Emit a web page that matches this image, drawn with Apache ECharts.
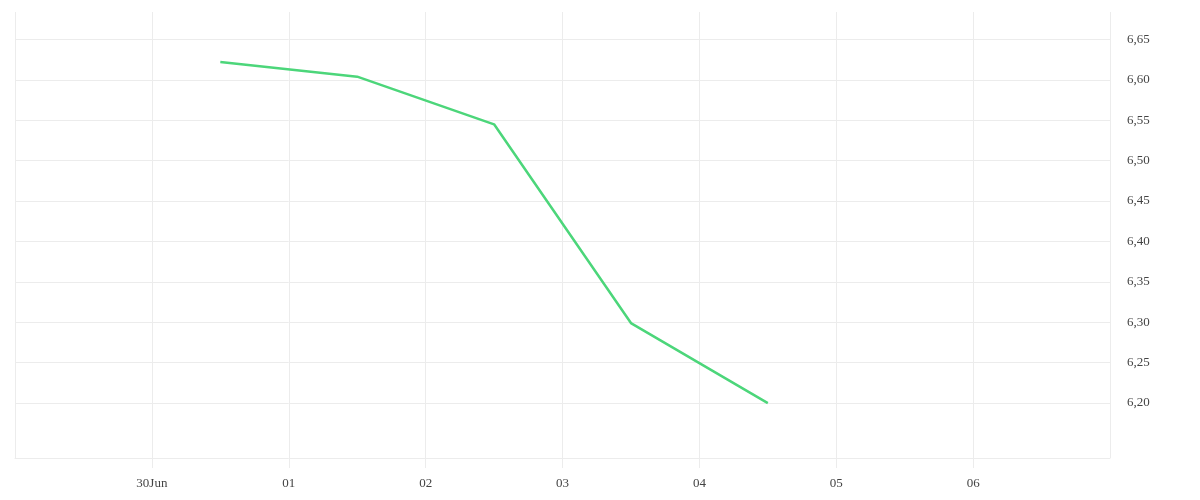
<!DOCTYPE html>
<html>
<head>
<meta charset="utf-8">
<script src="https://cdn.jsdelivr.net/npm/echarts@6/dist/echarts.min.js"></script>
<style>html,body{margin:0;padding:0;background:#fff}#c{width:1200px;height:500px}</style>
</head>
<body>
<div id="c"></div>
<script>
// Data
const dates = ['2025-06-30T12:00:00Z','2025-07-01T12:00:00Z','2025-07-02T12:00:00Z','2025-07-03T12:00:00Z','2025-07-04T12:00:00Z'];
const values = [6.622, 6.604, 6.545, 6.299, 6.200];
const yTicks = [6.20, 6.25, 6.30, 6.35, 6.40, 6.45, 6.50, 6.55, 6.60, 6.65];
const xStart = '2025-06-29T00:00:00Z';
const xEnd = '2025-07-07T00:00:00Z';
const monthNames = ['Jan','Feb','Mar','Apr','May','Jun','Jul','Aug','Sep','Oct','Nov','Dec'];

const DAY = 86400000;
const xMin = Date.parse(xStart), xMax = Date.parse(xEnd);
const gridColor = '#ececec';
const font = "'Liberation Serif', serif";

const chart = echarts.init(document.getElementById('c'));
chart.setOption({
  animation: false,
  grid: { left: 15, right: 90, top: 12, bottom: 42, containLabel: false },
  xAxis: {
    type: 'value', min: xMin, max: xMax, interval: DAY,
    axisLine: { show: true, lineStyle: { color: gridColor } },
    axisTick: { show: true, length: 10, lineStyle: { color: gridColor } },
    splitLine: { show: true, lineStyle: { color: gridColor } },
    axisLabel: {
      margin: 19, color: '#444', fontFamily: font, fontSize: 13,
      showMinLabel: false, showMaxLabel: false,
      formatter: function (v) {
        if (v <= xMin || v >= xMax) return '';
        const d = new Date(v);
        const dd = String(d.getUTCDate()).padStart(2, '0');
        return d.getUTCDate() === 30 ? dd + monthNames[d.getUTCMonth()] : dd;
      }
    }
  },
  yAxis: {
    type: 'value', position: 'right', min: 6.132, max: 6.684,
    axisLine: { show: false },
    axisTick: { show: false, customValues: yTicks },
    splitLine: { show: true, lineStyle: { color: gridColor } },
    axisLabel: {
      customValues: yTicks, margin: 17, color: '#444', fontFamily: font, fontSize: 13,
      padding: [4, 0, 0, 0],
      formatter: function (v) { return v.toFixed(2).replace('.', ','); }
    }
  },
  series: [{
    type: 'line',
    data: dates.map((d, i) => [Date.parse(d), values[i]]),
    showSymbol: false, symbol: 'none',
    lineStyle: { color: '#4cd67a', width: 2.5 },
    itemStyle: { color: '#4cd67a' }
  }]
});
</script>
</body>
</html>
